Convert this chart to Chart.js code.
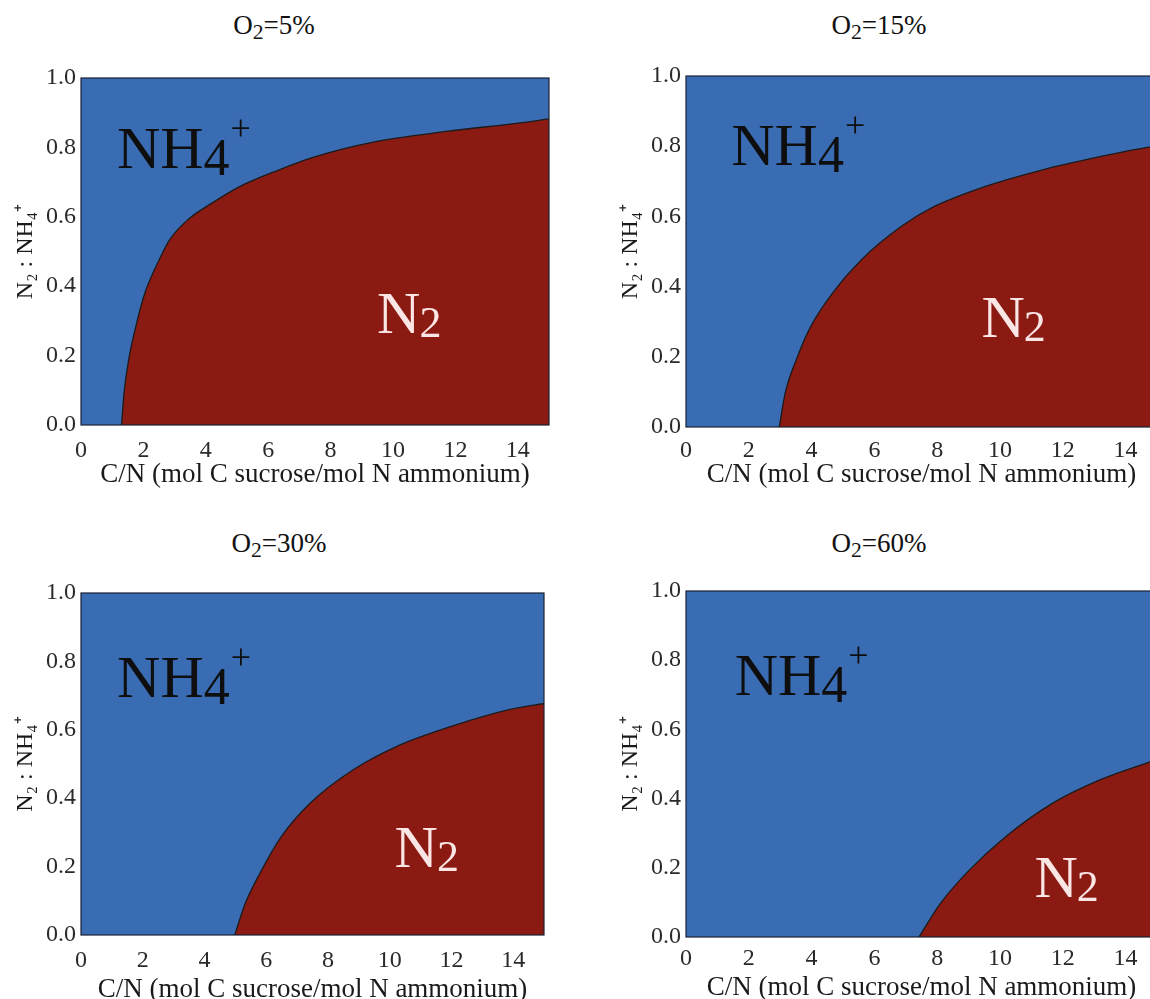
<!DOCTYPE html>
<html>
<head>
<meta charset="utf-8">
<script src="https://cdn.jsdelivr.net/npm/chart.js@4.4.0/dist/chart.umd.min.js"></script>
<style>
  html, body { margin: 0; padding: 0; background: #fff; overflow: hidden; }
  #figura { position: relative; width: 1150px; height: 999px; overflow: hidden; }
  #figura canvas { position: absolute; }
  .titulo { position: absolute; width: 240px; text-align: center; color: #111;
            font: 27px "Liberation Serif", serif; line-height: 30px; }
  .titulo sub { font-size: 80%; vertical-align: -0.25em; line-height: 0; }
</style>
</head>
<body>
<div id="figura">
  <div class="titulo" style="left:154px; top:10px;">O<sub>2</sub>=5%</div>
  <div class="titulo" style="left:759px; top:10px;">O<sub>2</sub>=15%</div>
  <div class="titulo" style="left:159px; top:528px;">O<sub>2</sub>=30%</div>
  <div class="titulo" style="left:759px; top:528px;">O<sub>2</sub>=60%</div>
  <canvas id="g5"></canvas>
  <canvas id="g15"></canvas>
  <canvas id="g30"></canvas>
  <canvas id="g60"></canvas>
</div>
<script>
// ---- data: boundary between the N2 and NH4+ regions ----
// C/N values (x) and N2:NH4+ boundary values (y) for each O2 level
const cn5   = [1.30, 1.38, 1.53, 1.76, 2.05, 2.51, 2.85, 3.43, 4.12, 5.04, 6.31, 7.46, 9.41, 11.71, 14.02, 15];
const lim5  = [0, 0.093, 0.189, 0.285, 0.381, 0.477, 0.535, 0.592, 0.635, 0.685, 0.734, 0.772, 0.816, 0.846, 0.870, 0.882];

const cn15  = [2.97, 3.16, 3.51, 3.97, 4.66, 5.58, 6.85, 7.88, 9.49, 11.33, 13.18, 14.65, 15];
const lim15 = [0, 0.097, 0.191, 0.286, 0.381, 0.476, 0.571, 0.627, 0.684, 0.732, 0.770, 0.796, 0.800];

const cn30  = [4.98, 5.33, 5.86, 6.50, 7.43, 8.82, 10.22, 11.97, 13.83, 15];
const lim30 = [0, 0.094, 0.191, 0.289, 0.386, 0.483, 0.551, 0.609, 0.658, 0.677];

const cn60  = [7.42, 8.11, 9.03, 10.18, 11.68, 13.18, 14.65, 15];
const lim60 = [0, 0.098, 0.194, 0.290, 0.387, 0.454, 0.502, 0.512];

const xTicks = [0, 2, 4, 6, 8, 10, 12, 14];
const yTicks = [0, 0.2, 0.4, 0.6, 0.8, 1.0];
const xLabel = 'C/N (mol C sucrose/mol N ammonium)';
const yLabel = 'N\u2082 : NH\u2084\u207A';

// colours
const AZUL = '#3a6cb4';
const VERMELHO = '#8b1b12';
const FONTE = '"Liberation Serif", "Times New Roman", serif';

// panel layout (pixels) and region label anchors (data coords)
const paineis = [
  { id: 'g5',  cn: cn5,  lim: lim5,  left: 0,   top: 50,  w: 570, h: 460, yW: 81, padTop: 28, padRight: 21, xH: 85, yTitlePad: 11, xTickPad: 11, xTitlePad: 19, nh: [1.15, 0.74],  n2: [9.49, 0.265] },
  { id: 'g15', cn: cn15, lim: lim15, left: 600, top: 50,  w: 580, h: 460, yW: 86, padTop: 26, padRight: 23, xH: 83, yTitlePad: 16, xTickPad: 9,  xTitlePad: 19, nh: [1.44, 0.746], n2: [9.41, 0.257] },
  { id: 'g30', cn: cn30, lim: lim30, left: 0,   top: 565, w: 570, h: 450, yW: 81, padTop: 28, padRight: 26, xH: 80, yTitlePad: 11, xTickPad: 11, xTitlePad: 9,  nh: [1.17, 0.697], n2: [10.16, 0.20] },
  { id: 'g60', cn: cn60, lim: lim60, left: 600, top: 565, w: 580, h: 450, yW: 86, padTop: 26, padRight: 23, xH: 78, yTitlePad: 16, xTickPad: 7,  xTitlePad: 11, nh: [1.55, 0.70],  n2: [11.1, 0.117] }
];

function desenhaNH4(ctx, x, y) {
  ctx.fillStyle = '#0e0e0e';
  ctx.textAlign = 'left';
  ctx.textBaseline = 'alphabetic';
  ctx.font = '60px ' + FONTE;
  ctx.fillText('NH', x, y);
  let w = ctx.measureText('NH').width;
  ctx.font = '52px ' + FONTE;
  ctx.fillText('4', x + w, y + 7);
  w += ctx.measureText('4').width;
  ctx.font = '36px ' + FONTE;
  ctx.fillText('+', x + w + 1, y - 28);
}

function desenhaN2(ctx, x, y) {
  ctx.fillStyle = '#fbe6e6';
  ctx.textAlign = 'left';
  ctx.textBaseline = 'alphabetic';
  ctx.font = '60px ' + FONTE;
  ctx.fillText('N', x, y);
  const w = ctx.measureText('N').width;
  ctx.font = '44px ' + FONTE;
  ctx.fillText('2', x + w - 1, y + 4);
}

// blue background, frame and region names
const regioes = {
  id: 'regioes',
  beforeDatasetsDraw(chart) {
    const a = chart.chartArea, ctx = chart.ctx;
    ctx.save();
    ctx.fillStyle = AZUL;
    ctx.fillRect(a.left, a.top, a.right - a.left, a.bottom - a.top);
    ctx.restore();
  },
  afterDatasetsDraw(chart, args, opts) {
    const a = chart.chartArea, ctx = chart.ctx;
    const sx = chart.scales.x, sy = chart.scales.y;
    ctx.save();
    ctx.strokeStyle = '#1a2233';
    ctx.lineWidth = 1.2;
    ctx.strokeRect(a.left, a.top, a.right - a.left, a.bottom - a.top);
    desenhaNH4(ctx, sx.getPixelForValue(opts.nh[0]), sy.getPixelForValue(opts.nh[1]));
    desenhaN2(ctx, sx.getPixelForValue(opts.n2[0]), sy.getPixelForValue(opts.n2[1]));
    ctx.restore();
  }
};

function criaGrafico(p) {
  const canvas = document.getElementById(p.id);
  canvas.width = p.w;
  canvas.height = p.h;
  canvas.style.left = p.left + 'px';
  canvas.style.top = p.top + 'px';
  canvas.style.width = p.w + 'px';
  canvas.style.height = p.h + 'px';

  const pontos = p.cn.map((x, i) => ({ x: x, y: p.lim[i] }));

  return new Chart(canvas.getContext('2d'), {
    type: 'line',
    data: {
      datasets: [{
        data: pontos,
        borderColor: '#1b1b1b',
        borderWidth: 1.3,
        backgroundColor: VERMELHO,
        fill: 'start',
        pointRadius: 0,
        cubicInterpolationMode: 'monotone'
      }]
    },
    plugins: [regioes],
    options: {
      responsive: false,
      animation: false,
      events: [],
      layout: { padding: { top: p.padTop, right: p.padRight, left: 0, bottom: 0 } },
      plugins: {
        legend: { display: false },
        tooltip: { enabled: false },
        regioes: { nh: p.nh, n2: p.n2 }
      },
      scales: {
        x: {
          type: 'linear',
          min: 0,
          max: 15,
          grid: { display: false, drawTicks: false },
          border: { display: false },
          afterBuildTicks: s => { s.ticks = xTicks.map(v => ({ value: v })); },
          ticks: {
            padding: p.xTickPad,
            color: '#2a2a2a',
            maxRotation: 0,
            autoSkip: false,
            font: { family: FONTE, size: 24 },
            callback: v => String(v)
          },
          title: {
            display: true,
            text: xLabel,
            color: '#1a1a1a',
            font: { family: FONTE, size: 27 },
            padding: { top: 0, bottom: p.xTitlePad }
          },
          afterFit: s => { s.height = p.xH; }
        },
        y: {
          type: 'linear',
          min: 0,
          max: 1,
          grid: { display: false, drawTicks: false },
          border: { display: false },
          afterBuildTicks: s => { s.ticks = yTicks.map(v => ({ value: v })); },
          ticks: {
            padding: 5,
            color: '#2a2a2a',
            autoSkip: false,
            font: { family: FONTE, size: 24 },
            callback: v => Number(v).toFixed(1)
          },
          title: {
            display: true,
            text: yLabel,
            color: '#1a1a1a',
            font: { family: FONTE, size: 24 },
            padding: { top: p.yTitlePad, bottom: 0 }
          },
          afterFit: s => { s.width = p.yW; }
        }
      }
    }
  });
}

paineis.forEach(criaGrafico);
</script>
</body>
</html>
